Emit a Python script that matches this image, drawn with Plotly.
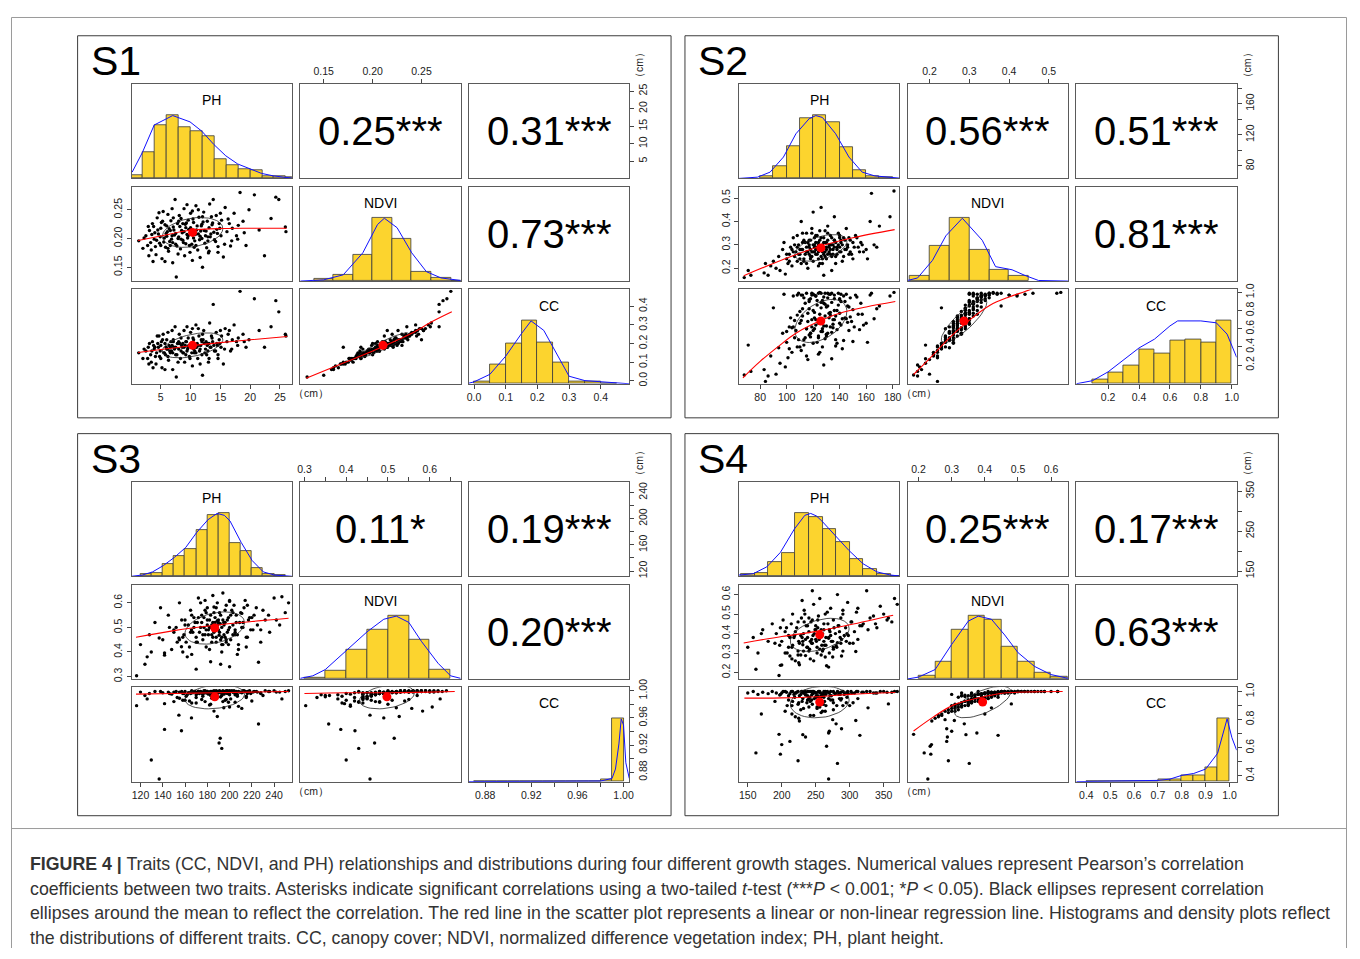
import numpy as np
import plotly.graph_objects as go

# ---------------------------------------------------------------- data
STAGES = ["S1", "S2", "S3", "S4"]
TRAITS = ["PH", "NDVI", "CC"]

S1_PH = [1.3,2.5,2.8,3.1,3.4,3.6,3.9,4.2,4.4,4.6, 4.8,5.0,5.2,5.4,5.6,5.8,6.0,6.1,6.3,6.5,
         6.7,6.9,7.0,7.2,7.4,7.5,7.6,7.8,8.0,8.1, 8.3,8.5,8.7,8.9,9.0,9.2,9.4,9.6,9.8,10.0,
         10.1,10.3,10.5,10.7,10.9,11.0,11.2,11.4,11.6,11.8, 12.0,12.2,12.4,12.6,12.8,13.0,13.2,13.4,13.6,13.8,
         14.0,14.3,14.6,14.9,15.2,15.5,15.8,16.1,16.5,16.9, 17.3,17.7,18.3,18.8,19.3,19.8,20.7,21.5,22.4,23.5,
         24.3,24.8,25.9,26.0,4.0,5.3,6.6,7.9,9.1,10.6, 11.9,8.4,6.2,12.9,3.0,9.9,14.5,7.1,11.3,5.7,
         2.2,3.3,3.8,4.1,4.5,4.9,5.1,5.5,5.9,6.2, 6.4,6.8,7.1,7.3,7.7,8.2,8.6,8.8,9.3,9.5,
         9.7,10.2,10.4,10.8,11.1,11.5,11.7,12.1,12.5,12.7, 13.1,13.5,13.9,14.2,14.8,15.1,15.7,16.3,17.0,17.9,
         3.5,4.3,5.0,5.7,6.0,6.6,7.0,7.5,8.0,8.4, 8.9,9.2,9.6,10.0,10.5,10.9,11.3,11.9,12.3,12.9,
         13.3,13.7,14.4,15.0,16.7,18.0,19.0,2.0,2.9,3.7, 6.9,9.4,11.6,13.1,4.7,7.9,10.3,12.0,14.6,8.7]
S1_NDVI = [0.196,0.205,0.188,0.214,0.180,0.226,0.199,0.172,0.236,0.208, 0.192,0.218,0.165,0.247,0.201,0.185,0.222,0.212,0.178,0.195,
           0.231,0.205,0.158,0.215,0.268,0.190,0.133,0.226,0.203,0.240, 0.182,0.214,0.197,0.252,0.170,0.219,0.207,0.232,0.188,0.244,
           0.211,0.162,0.228,0.196,0.257,0.215,0.180,0.237,0.204,0.222, 0.150,0.246,0.192,0.213,0.230,0.175,0.260,0.208,0.224,0.268,
           0.198,0.240,0.186,0.218,0.232,0.168,0.254,0.212,0.226,0.196, 0.244,0.205,0.280,0.230,0.188,0.250,0.276,0.215,0.170,0.235,
           0.272,0.268,0.220,0.212,0.210,0.230,0.188,0.200,0.225,0.185, 0.200,0.235,0.242,0.203,0.170,0.176,0.209,0.220,0.250,0.160,
           0.201,0.193,0.221,0.186,0.215,0.203,0.228,0.194,0.209,0.183, 0.217,0.199,0.236,0.206,0.187,0.221,0.210,0.193,0.227,0.201,
           0.216,0.190,0.234,0.207,0.222,0.198,0.213,0.229,0.205,0.184, 0.219,0.238,0.211,0.195,0.226,0.205,0.190,0.234,0.218,0.199,
           0.207,0.197,0.188,0.224,0.204,0.214,0.193,0.209,0.230,0.199, 0.212,0.191,0.205,0.219,0.201,0.188,0.208,0.225,0.214,0.196,
           0.203,0.227,0.216,0.244,0.187,0.223,0.210,0.183,0.221,0.160, 0.252,0.259,0.167,0.178,0.245,0.173,0.248,0.238,0.176,0.226]
S1_CC = [0.15,0.16,0.12,0.20,0.10,0.21,0.17,0.09,0.24,0.18, 0.13,0.19,0.07,0.25,0.15,0.14,0.22,0.17,0.11,0.16,
         0.21,0.19,0.06,0.18,0.29,0.14,0.02,0.20,0.17,0.25, 0.12,0.19,0.15,0.27,0.10,0.21,0.16,0.23,0.13,0.26,
         0.20,0.08,0.22,0.16,0.30,0.18,0.12,0.24,0.17,0.22, 0.03,0.27,0.15,0.21,0.19,0.10,0.31,0.18,0.23,0.41,
         0.16,0.26,0.14,0.20,0.24,0.09,0.28,0.21,0.27,0.17, 0.30,0.21,0.48,0.25,0.18,0.22,0.44,0.27,0.18,0.29,
         0.43,0.37,0.25,0.24,0.18,0.22,0.15,0.20,0.19,0.15, 0.14,0.23,0.26,0.20,0.09,0.12,0.19,0.21,0.28,0.06,
         0.17,0.14,0.19,0.13,0.20,0.16,0.21,0.15,0.18,0.13, 0.19,0.16,0.22,0.17,0.14,0.20,0.18,0.15,0.21,0.17,
         0.19,0.15,0.23,0.18,0.20,0.16,0.19,0.22,0.17,0.14, 0.20,0.24,0.19,0.16,0.22,0.18,0.17,0.25,0.22,0.19,
         0.16,0.15,0.12,0.20,0.17,0.18,0.15,0.18,0.21,0.16, 0.18,0.14,0.18,0.19,0.17,0.15,0.19,0.21,0.20,0.16,
         0.18,0.21,0.20,0.27,0.16,0.23,0.21,0.12,0.18,0.07, 0.27,0.29,0.09,0.12,0.24,0.10,0.28,0.25,0.12,0.20]

S2_PH = [68,71,73,84,83,86,88,90,92,94, 95,97,98,99,100,101,102,103,104,105,
         106,107,108,109,110,111,111,112,113,114, 115,115,116,117,118,118,119,120,120,121,
         122,122,123,124,124,125,125,126,126,127, 128,128,129,130,130,131,132,133,133,134,
         135,136,136,137,138,139,140,141,142,143, 144,145,146,147,148,150,152,154,156,158,
         161,163,164,166,168,170,178,181,119,127, 113,134,121,117,129,140,110,124,131,108,
         105,108,110,112,114,115,116,117,118,119, 120,121,122,123,124,125,126,127,128,129,
         130,131,132,133,134,135,136,137,138,139, 140,141,142,144,146,148,150,153,157,160,
         100,102,104,106,109,111,113,116,118,120, 122,124,126,128,130,132,134,136,138,140,
         143,145,147,149,151,155,112,119,125,131, 137,127,123,115,133,121,129,117,135,141]
S2_NDVI = [0.16,0.19,0.17,0.22,0.18,0.17,0.21,0.23,0.20,0.25, 0.19,0.28,0.31,0.175,0.24,0.22,0.26,0.29,0.21,0.33,
           0.25,0.27,0.23,0.30,0.26,0.40,0.22,0.28,0.24,0.31, 0.27,0.35,0.20,0.29,0.25,0.32,0.27,0.44,0.23,0.30,
           0.26,0.34,0.29,0.21,0.31,0.28,0.36,0.46,0.25,0.30, 0.17,0.33,0.27,0.31,0.24,0.38,0.29,0.26,0.34,0.30,
           0.28,0.42,0.32,0.25,0.29,0.35,0.27,0.31,0.23,0.33, 0.28,0.37,0.30,0.26,0.32,0.24,0.34,0.29,0.31,0.27,
           0.24,0.40,0.52,0.30,0.29,0.38,0.42,0.53,0.35,0.22, 0.32,0.19,0.27,0.30,0.36,0.33,0.28,0.24,0.26,0.34,
           0.27,0.29,0.24,0.31,0.26,0.29,0.27,0.32,0.28,0.25, 0.30,0.33,0.28,0.26,0.30,0.32,0.29,0.27,0.31,0.25,
           0.29,0.32,0.27,0.30,0.33,0.26,0.29,0.31,0.28,0.30, 0.34,0.27,0.30,0.32,0.29,0.27,0.31,0.33,0.30,0.28,
           0.26,0.23,0.28,0.30,0.26,0.28,0.23,0.31,0.24,0.27, 0.31,0.27,0.33,0.26,0.28,0.30,0.25,0.32,0.26,0.29,
           0.25,0.28,0.33,0.26,0.29,0.27,0.35,0.37,0.22,0.35, 0.22,0.24,0.34,0.22,0.28,0.29,0.31,0.26,0.30,0.32]
S2_CC = [0.09,0.42,0.13,0.02,0.15,0.08,0.30,0.83,0.10,0.39, 0.22,0.55,0.98,0.18,0.45,0.28,0.62,0.72,0.34,0.96,
         0.50,0.58,0.40,0.99,0.66,0.97,0.36,0.74,0.48,0.88, 0.60,0.99,0.26,0.82,0.55,0.93,0.70,0.98,0.44,0.78,
         0.64,0.96,0.86,0.32,0.99,0.68,1.00,0.99,0.57,0.91, 0.20,0.95,0.74,0.84,0.52,0.99,0.77,0.62,0.98,0.89,
         0.70,0.97,0.93,0.48,0.80,0.99,0.66,0.90,0.38,0.96, 0.72,0.98,0.85,0.58,0.94,0.46,0.97,0.76,0.88,0.64,
         0.45,0.97,0.99,0.71,0.82,0.85,0.96,1.00,0.97,0.40, 0.94,0.27,0.60,0.90,0.99,0.92,0.79,0.50,0.55,0.97,
         0.62,0.75,0.40,0.82,0.50,0.60,0.68,0.92,0.55,0.62, 0.80,0.97,0.70,0.45,0.66,0.76,0.83,0.57,0.88,0.49,
         0.63,0.85,0.72,0.78,0.99,0.61,0.70,0.74,0.59,0.86, 0.93,0.64,0.71,0.90,0.67,0.73,0.81,0.95,0.76,0.66,
         0.57,0.38,0.61,0.69,0.48,0.69,0.42,0.77,0.51,0.58, 0.96,0.52,0.89,0.63,0.54,0.98,0.56,0.80,0.44,0.77,
         0.47,0.71,0.84,0.68,0.62,0.59,0.97,0.99,0.34,0.94, 0.41,0.60,0.91,0.30,0.75,0.72,0.87,0.53,0.65,0.98]

S3_PH = [136.8,129.7,193.0,190.6,191.6,141.6,156.8,226.0,154.5,165.8, 189.0,116.5,126.0,141.6,194.8,211.0,186.0,247.0,200,178,
         170,160,205,220,183,175,196,150,
         120,128,133,140,145,148,152,155,158,160, 162,165,167,169,171,172,174,176,177,179,
         180,181,182,183,184,185,186,187,188,189, 190,191,192,193,194,195,196,197,198,199,
         200,201,203,204,206,208,210,212,214,216, 218,221,224,228,232,236,240,245,250,253,
         138,124,170,185,207,178,192,161,215,230,
         150,153,157,159,163,164,166,168,170,172, 173,175,176,178,179,180,181,182,183,184,
         185,186,187,188,189,190,191,192,193,194, 195,196,197,198,199,200,201,202,203,205,
         206,207,209,211,213,215,217,219,222,225, 158,166,174,182,188,194,200,208,216,171,
         177,184,190,197,203,165,212,180,186,193, 146,155,228,235,242,168,199,205,179,187]
S3_NDVI = [0.457,0.400,0.430,0.468,0.515,0.387,0.421,0.358,0.457,0.490, 0.527,0.303,0.380,0.396,0.520,0.557,0.583,0.625,0.606,0.470,
           0.44,0.51,0.48,0.54,0.50,0.55,0.46,0.48,
           0.43,0.47,0.52,0.45,0.55,0.41,0.50,0.60,0.46,0.53, 0.38,0.57,0.48,0.52,0.44,0.62,0.50,0.47,0.54,0.42,
           0.58,0.49,0.53,0.36,0.51,0.46,0.56,0.50,0.44,0.60, 0.52,0.48,0.55,0.40,0.64,0.51,0.57,0.45,0.53,0.49,
           0.34,0.55,0.47,0.59,0.52,0.43,0.56,0.50,0.61,0.46, 0.54,0.49,0.58,0.44,0.53,0.48,0.62,0.51,0.56,0.60,
           0.58,0.35,0.33,0.63,0.39,0.61,0.35,0.44,0.42,0.57,
           0.49,0.44,0.53,0.47,0.51,0.42,0.55,0.50,0.46,0.54, 0.48,0.52,0.45,0.57,0.49,0.53,0.47,0.50,0.55,0.44,
           0.52,0.48,0.54,0.46,0.51,0.49,0.56,0.45,0.50,0.53, 0.47,0.52,0.59,0.48,0.54,0.50,0.45,0.57,0.51,0.49,
           0.55,0.47,0.52,0.50,0.58,0.46,0.53,0.49,0.55,0.51, 0.40,0.39,0.60,0.41,0.58,0.43,0.61,0.41,0.59,0.52,
           0.50,0.47,0.53,0.44,0.56,0.48,0.52,0.51,0.49,0.46, 0.50,0.45,0.49,0.55,0.53,0.54,0.43,0.47,0.56,0.52]
S3_CC = [0.870,0.898,0.915,0.923,0.930,0.943,0.941,0.951,0.964,0.960, 0.962,0.978,0.988,0.981,0.975,0.974,0.970,0.988,0.976,0.984,
         0.982,0.986,0.983,0.985,0.980,0.987,0.986,0.984,
         0.998,0.996,0.999,0.997,0.998,0.995,0.999,0.998,0.996,0.999, 0.994,0.998,0.997,0.999,0.996,0.999,0.998,0.995,1.000,0.997,
         0.999,0.996,0.998,0.993,0.999,0.997,1.000,0.998,0.995,0.999, 0.997,0.999,0.998,0.996,1.000,0.998,0.999,0.997,1.000,0.996,
         0.994,0.999,0.998,1.000,0.997,0.999,0.998,1.000,0.999,0.996, 1.000,0.998,0.999,0.997,1.000,0.999,1.000,0.998,0.999,1.000,
         0.999,0.993,0.990,0.999,0.992,0.998,0.991,0.992,0.990,0.993,
         0.998,0.990,0.999,0.996,0.997,0.985,1.000,0.998,0.994,0.999, 0.996,0.998,0.992,1.000,0.997,0.999,0.995,0.998,0.999,0.989,
         0.998,0.996,0.999,0.993,0.998,0.997,1.000,0.991,0.998,0.999, 0.995,0.998,1.000,0.996,0.999,0.997,0.988,1.000,0.998,0.996,
         0.999,0.994,0.998,0.997,1.000,0.992,0.999,0.996,0.999,0.998, 0.986,0.982,0.999,0.979,1.000,0.984,1.000,0.977,0.999,0.998,
         0.997,0.995,0.999,0.987,0.999,0.996,0.998,0.998,0.997,0.993, 0.996,0.989,0.996,0.999,0.998,0.999,0.983,0.994,0.999,0.998]

S4_PH = [269,282,224,198,162,200,266,212,196,231, 315,235,269,270,288,280,309,170,327,357,
         205,215,225,232,238,242,245,248,252,255, 258,262,265,272,276,285,295,190,220,250,
         260,240,230,300,210,275,
         150,158,165,172,180,186,192,197,202,207, 212,216,220,224,228,233,236,240,244,247,
         250,253,256,260,264,268,272,277,282,287, 292,297,303,310,318,325,335,345,355,366,
         245,230,262,238,290,
         200,205,210,214,218,222,226,229,232,235, 238,241,243,246,249,251,254,257,259,262,
         265,267,270,273,276,279,283,286,290,294, 298,302,307,312,320,330,340,350,362,370,
         208,216,224,231,237,244,250,256,263,269, 275,281,288,296,305,215,228,240,252,264,
         276,290,225,247,258,233,219,271,284,242, 255,198,312,338,226,261,245,287,234,253]
S4_NDVI = [0.228,0.353,0.290,0.237,0.217,0.239,0.235,0.285,0.185,0.343, 0.44,0.287,0.376,0.30,0.285,0.338,0.308,0.40,0.42,0.48,
           0.30,0.33,0.36,0.31,0.38,0.27,0.35,0.40,0.33,0.37, 0.29,0.42,0.34,0.39,0.32,0.41,0.36,0.35,0.26,0.44,
           0.31,0.41,0.38,0.35,0.39,0.28,
           0.33,0.38,0.30,0.42,0.36,0.45,0.40,0.34,0.47,0.43, 0.38,0.50,0.41,0.46,0.39,0.52,0.44,0.48,0.37,0.55,
           0.42,0.47,0.58,0.40,0.50,0.45,0.53,0.43,0.60,0.48, 0.39,0.56,0.46,0.51,0.44,0.62,0.49,0.54,0.47,0.58,
           0.62,0.57,0.36,0.33,0.52,
           0.36,0.41,0.33,0.45,0.38,0.43,0.35,0.48,0.40,0.37, 0.44,0.32,0.46,0.39,0.42,0.36,0.49,0.41,0.34,0.45,
           0.38,0.51,0.42,0.36,0.47,0.40,0.44,0.38,0.50,0.43, 0.39,0.46,0.41,0.53,0.45,0.48,0.43,0.50,0.46,0.55,
           0.30,0.34,0.31,0.36,0.33,0.35,0.37,0.32,0.34,0.38, 0.36,0.33,0.37,0.40,0.35,0.27,0.29,0.31,0.30,0.28,
           0.33,0.31,0.25,0.26,0.42,0.46,0.39,0.41,0.44,0.36, 0.39,0.43,0.37,0.45,0.24,0.32,0.47,0.35,0.50,0.43]
S4_CC = [0.377,0.488,0.507,0.554,0.563,0.622,0.610,0.645,0.695,0.693, 0.688,0.676,0.705,0.717,0.735,0.770,0.794,0.840,0.884,0.912,
         0.86,0.90,0.92,0.88,0.94,0.83,0.91,0.95,0.89,0.93, 0.85,0.96,0.90,0.94,0.87,0.95,0.92,0.93,0.82,0.96,
         0.86,0.95,0.93,0.90,0.94,0.80,
         0.99,1.00,0.98,0.995,0.985,1.00,0.99,0.975,1.00,0.995, 0.985,1.00,0.99,1.00,0.98,1.00,0.995,1.00,0.975,1.00,
         0.99,0.995,1.00,0.985,1.00,0.995,1.00,0.99,1.00,0.995, 0.98,1.00,0.99,1.00,0.995,1.00,0.99,1.00,0.995,1.00,
         1.00,1.00,0.98,0.97,1.00,
         0.99,1.00,0.97,1.00,0.98,0.995,0.97,1.00,0.99,0.975, 1.00,0.96,1.00,0.985,0.995,0.97,1.00,0.99,0.965,1.00,
         0.98,1.00,0.99,0.97,1.00,0.985,0.995,0.98,1.00,0.99, 0.985,1.00,0.99,1.00,0.995,1.00,0.99,1.00,0.995,1.00,
         0.90,0.93,0.91,0.95,0.92,0.94,0.96,0.89,0.93,0.95, 0.94,0.90,0.95,0.96,0.92,0.84,0.87,0.89,0.88,0.86,
         0.92,0.90,0.81,0.83,0.97,0.99,0.96,0.97,0.98,0.93, 0.96,0.98,0.95,0.99,0.79,0.91,0.99,0.94,1.00,0.97]

# histogram bin edges and relative bar heights (tallest bar = 1)
S1_PH_EDGES = [0,2,4,6,8,10,12,14,16,18,20,22,24,26,28]
S1_PH_HIST = [0.05,0.42,0.85,1.0,0.82,0.75,0.67,0.31,0.21,0.15,0.13,0.03,0.04,0.02]
S1_NDVI_EDGES = [0.14,0.16,0.18,0.20,0.22,0.24,0.26,0.28,0.30]
S1_NDVI_HIST = [0.03,0.10,0.42,1.0,0.68,0.15,0.05,0.01]
S1_CC_EDGES = [0.0,0.05,0.10,0.15,0.20,0.25,0.30,0.35,0.40,0.45]
S1_CC_HIST = [0.03,0.31,0.64,1.0,0.66,0.34,0.04,0.04,0.005]
S2_PH_EDGES = [80,90,100,110,120,130,140,150,160,170,180]
S2_PH_HIST = [0.04,0.20,0.52,0.96,1.0,0.90,0.49,0.13,0.03,0.02]
S2_NDVI_EDGES = [0.15,0.20,0.25,0.30,0.35,0.40,0.45]
S2_NDVI_HIST = [0.08,0.56,1.0,0.49,0.18,0.08]
S2_CC_EDGES = [0.1,0.2,0.3,0.4,0.5,0.6,0.7,0.8,0.9,1.0]
S2_CC_HIST = [0.07,0.18,0.29,0.54,0.48,0.69,0.71,0.65,1.0]
S3_PH_EDGES = [120,130,140,150,160,170,180,190,200,210,220,230,240,250]
S3_PH_HIST = [0.03,0.05,0.19,0.33,0.43,0.74,0.97,1.0,0.53,0.40,0.13,0.03,0.02]
S3_NDVI_EDGES = [0.30,0.35,0.40,0.45,0.50,0.55,0.60,0.65]
S3_NDVI_HIST = [0.02,0.13,0.46,0.79,1.0,0.63,0.15]
S3_CC_EDGES = [0.87,0.88,0.89,0.90,0.91,0.92,0.93,0.94,0.95,0.96,0.97,0.98,0.99,1.00]
S3_CC_HIST = [0,0,0,0,0,0,0,0,0,0,0.01,0.04,1.0]
S4_PH_EDGES = [140,160,180,200,220,240,260,280,300,320,340,360,380]
S4_PH_HIST = [0.03,0.05,0.22,0.37,1.0,0.94,0.75,0.55,0.28,0.11,0.03,0.01]
S4_NDVI_EDGES = [0.20,0.25,0.30,0.35,0.40,0.45,0.50,0.55,0.60,0.65]
S4_NDVI_HIST = [0.05,0.28,0.78,1.0,0.94,0.52,0.28,0.10,0.03]
S4_CC_EDGES = [0.40,0.45,0.50,0.55,0.60,0.65,0.70,0.75,0.80,0.85,0.90,0.95,1.00]
S4_CC_HIST = [0,0,0,0,0.005,0.01,0.03,0.04,0.10,0.10,0.23,1.0]

# density curves (relative, peak = 1)
S1_PH_DX = [0.2,1.9,3.9,7.0,9.9,11.9,13.9,15.9,17.9,19.9,21.9,23.9,27.0]
S1_PH_DY = [0.10,0.41,0.85,1.0,0.90,0.75,0.54,0.36,0.23,0.15,0.08,0.04,0.005]
S1_NDVI_DX = [0.126,0.15,0.17,0.19,0.205,0.212,0.225,0.24,0.255,0.27,0.29]
S1_NDVI_DY = [0.0,0.02,0.10,0.45,0.90,1.0,0.85,0.45,0.15,0.05,0.01]
S1_CC_DX = [-0.016,0.0,0.05,0.10,0.15,0.18,0.22,0.25,0.30,0.35,0.40,0.45,0.49]
S1_CC_DY = [0.01,0.03,0.15,0.44,0.80,1.0,0.85,0.58,0.12,0.05,0.03,0.01,0.0]
S2_PH_DX = [64,78,87.5,97.6,107,117,122,127,137,147,157,166.5,185]
S2_PH_DY = [0.0,0.02,0.10,0.34,0.71,0.95,1.0,0.97,0.71,0.34,0.10,0.04,0.005]
S2_NDVI_DX = [0.145,0.17,0.2075,0.241,0.2825,0.3325,0.366,0.4075,0.44,0.474,0.548]
S2_NDVI_DY = [0.01,0.05,0.33,0.72,1.0,0.65,0.23,0.18,0.09,0.01,0.0]
S2_CC_DX = [-0.006,0.1,0.2,0.3,0.4,0.5,0.6,0.65,0.8,0.9,0.97,1.032]
S2_CC_DY = [0.0,0.05,0.19,0.38,0.57,0.71,0.92,1.0,1.0,0.97,0.79,0.42]
S3_PH_DX = [112,121.6,130.9,140.5,150.4,160.7,170.6,180.6,188.8,195.3,200.4,210.4,220.3,230.3,240.2,256]
S3_PH_DY = [0.0,0.02,0.07,0.17,0.30,0.46,0.70,0.90,1.0,0.97,0.88,0.54,0.25,0.07,0.02,0.0]
S3_NDVI_DX = [0.29,0.32,0.35,0.40,0.45,0.49,0.52,0.55,0.58,0.62,0.65,0.674]
S3_NDVI_DY = [0.01,0.05,0.15,0.45,0.75,0.95,1.0,0.90,0.60,0.25,0.05,0.01]
S3_CC_DX = [0.866,0.95,0.98,0.99,0.993,0.996,0.998,1.0,1.002,1.005]
S3_CC_DY = [0.0,0.003,0.01,0.05,0.20,0.60,1.0,0.90,0.30,0.05]
S4_PH_DX = [137,157.8,178,198,218.5,234,242.6,251,259,279,299,319.6,340,360,373]
S4_PH_DY = [0.02,0.04,0.15,0.38,0.75,0.97,1.0,0.96,0.88,0.65,0.41,0.20,0.07,0.02,0.005]
S4_NDVI_DX = [0.167,0.20,0.25,0.30,0.35,0.38,0.42,0.46,0.50,0.55,0.60,0.651]
S4_NDVI_DY = [0.0,0.03,0.15,0.55,0.92,1.0,0.95,0.70,0.42,0.20,0.07,0.01]
S4_CC_DX = [0.358,0.50,0.60,0.70,0.75,0.80,0.85,0.90,0.95,0.98,0.99,1.01,1.03]
S4_CC_DY = [0.0,0.005,0.01,0.02,0.04,0.10,0.13,0.20,0.45,0.85,1.0,0.70,0.50]

# smoothed (red) regression lines, (x trait, y trait)
S1_FIT_PH_NDVI = ([1.2,5,9.7,15.4,20,26.1], [0.1966,0.2045,0.214,0.2175,0.218,0.218])
S1_FIT_PH_CC = ([1.2,5,9.7,15,20,26.2], [0.152,0.168,0.187,0.205,0.22,0.238])
S1_FIT_NDVI_CC = ([0.132,0.17,0.212,0.24,0.26,0.281], [0.014,0.095,0.187,0.255,0.315,0.37])
S2_FIT_PH_NDVI = ([67.6,95,123,150,181.5], [0.168,0.232,0.29,0.33,0.365])
S2_FIT_PH_CC = ([67,80,95,107,122,140,160,182], [0.06,0.24,0.42,0.55,0.665,0.77,0.84,0.90])
S2_FIT_NDVI_CC = ([0.16,0.20,0.25,0.292,0.352,0.40,0.44,0.47], [0.096,0.27,0.50,0.665,0.858,0.95,1.01,1.06])
S3_FIT_PH_NDVI = ([116,150,185,220,253], [0.46,0.487,0.508,0.524,0.537])
S3_FIT_PH_CC = ([116,150,186,220,253], [0.995,0.996,0.997,0.998,0.999])
S3_FIT_NDVI_CC = ([0.30,0.40,0.50,0.60,0.66], [0.996,0.997,0.997,0.998,0.999])
S4_FIT_PH_NDVI = ([144,200,249,300,364], [0.352,0.385,0.41,0.445,0.494])
S4_FIT_PH_CC = ([145,200,252,300,367], [0.953,0.955,0.963,0.98,0.993])
S4_FIT_NDVI_CC = ([0.185,0.244,0.308,0.40,0.458,0.55,0.635], [0.719,0.818,0.907,0.965,0.99,0.998,1.0])

# correlation labels (PH-NDVI, PH-CC, NDVI-CC)
S1_R = ["0.25***", "0.31***", "0.73***"]
S2_R = ["0.56***", "0.51***", "0.81***"]
S3_R = ["0.11*", "0.19***", "0.20***"]
S4_R = ["0.25***", "0.17***", "0.63***"]

# axis ranges and tick labels
RANGES = {
    "S1": {"PH": [0.1, 27.0], "NDVI": [0.126, 0.290], "CC": [-0.016, 0.490]},
    "S2": {"PH": [64, 185], "NDVI": [0.145, 0.548], "CC": [-0.006, 1.032]},
    "S3": {"PH": [112, 256], "NDVI": [0.290, 0.674], "CC": [0.866, 1.005]},
    "S4": {"PH": [137, 373], "NDVI": [0.167, 0.651], "CC": [0.358, 1.030]},
}
TICKS = {
    "S1": {"top": ([0.15, 0.20, 0.25], ["0.15", "0.20", "0.25"]),
           "left": ([0.15, 0.20, 0.25], ["0.15", "0.20", "0.25"]),
           "right_ph": ([5, 10, 15, 20, 25], ["5", "10", "15", "20", "25"]),
           "bottom_ph": ([5, 10, 15, 20, 25], ["5", "10", "15", "20", "25"]),
           "bottom_cc": ([0, 0.1, 0.2, 0.3, 0.4], ["0.0", "0.1", "0.2", "0.3", "0.4"]),
           "right_cc": ([0, 0.1, 0.2, 0.3, 0.4], ["0.0", "0.1", "0.2", "0.3", "0.4"])},
    "S2": {"top": ([0.2, 0.3, 0.4, 0.5], ["0.2", "0.3", "0.4", "0.5"]),
           "left": ([0.2, 0.3, 0.4, 0.5], ["0.2", "0.3", "0.4", "0.5"]),
           "right_ph": ([80, 100, 120, 140, 160, 180], ["80", "", "120", "", "160", ""]),
           "bottom_ph": ([80, 100, 120, 140, 160, 180], ["80", "100", "120", "140", "160", "180"]),
           "bottom_cc": ([0.2, 0.4, 0.6, 0.8, 1.0], ["0.2", "0.4", "0.6", "0.8", "1.0"]),
           "right_cc": ([0.2, 0.4, 0.6, 0.8, 1.0], ["0.2", "0.4", "0.6", "0.8", "1.0"])},
    "S3": {"top": ([0.30, 0.35, 0.40, 0.45, 0.50, 0.55, 0.60, 0.65], ["0.3", "", "0.4", "", "0.5", "", "0.6", ""]),
           "left": ([0.3, 0.4, 0.5, 0.6], ["0.3", "0.4", "0.5", "0.6"]),
           "right_ph": ([120, 140, 160, 180, 200, 220, 240], ["120", "", "160", "", "200", "", "240"]),
           "bottom_ph": ([120, 140, 160, 180, 200, 220, 240], ["120", "140", "160", "180", "200", "220", "240"]),
           "bottom_cc": ([0.88, 0.90, 0.92, 0.94, 0.96, 0.98, 1.00], ["0.88", "", "0.92", "", "0.96", "", "1.00"]),
           "right_cc": ([0.88, 0.90, 0.92, 0.94, 0.96, 0.98, 1.00], ["0.88", "", "0.92", "", "0.96", "", "1.00"])},
    "S4": {"top": ([0.2, 0.3, 0.4, 0.5, 0.6], ["0.2", "0.3", "0.4", "0.5", "0.6"]),
           "left": ([0.2, 0.3, 0.4, 0.5, 0.6], ["0.2", "0.3", "0.4", "0.5", "0.6"]),
           "right_ph": ([150, 200, 250, 300, 350], ["150", "", "250", "", "350"]),
           "bottom_ph": ([150, 200, 250, 300, 350], ["150", "200", "250", "300", "350"]),
           "bottom_cc": ([0.4, 0.5, 0.6, 0.7, 0.8, 0.9, 1.0], ["0.4", "0.5", "0.6", "0.7", "0.8", "0.9", "1.0"]),
           "right_cc": ([0.4, 0.5, 0.6, 0.7, 0.8, 0.9, 1.0], ["0.4", "", "0.6", "", "0.8", "", "1.0"])},
}

CAPTION = [
    "<b>FIGURE 4 |</b> Traits (CC, NDVI, and PH) relationships and distributions during four different growth stages. Numerical values represent Pearson’s correlation",
    "coefficients between two traits. Asterisks indicate significant correlations using a two-tailed <i>t</i>-test (***<i>P</i> &lt; 0.001; *<i>P</i> &lt; 0.05). Black ellipses represent correlation",
    "ellipses around the mean to reflect the correlation. The red line in the scatter plot represents a linear or non-linear regression line. Histograms and density plots reflect",
    "the distributions of different traits. CC, canopy cover; NDVI, normalized difference vegetation index; PH, plant height.",
]

_g = globals()
DATA = {}
for s in STAGES:
    DATA[s] = {
        "vals": {t: _g[f"{s}_{t}"] for t in TRAITS},
        "hist": {t: (_g[f"{s}_{t}_EDGES"], _g[f"{s}_{t}_HIST"]) for t in TRAITS},
        "dens": {t: (_g[f"{s}_{t}_DX"], _g[f"{s}_{t}_DY"]) for t in TRAITS},
        "fit": {("PH", "NDVI"): _g[f"{s}_FIT_PH_NDVI"], ("PH", "CC"): _g[f"{s}_FIT_PH_CC"],
                ("NDVI", "CC"): _g[f"{s}_FIT_NDVI_CC"]},
        "r": {("PH", "NDVI"): _g[f"{s}_R"][0], ("PH", "CC"): _g[f"{s}_R"][1],
              ("NDVI", "CC"): _g[f"{s}_R"][2]},
    }

# ---------------------------------------------------------------- style / layout
# The page keeps the browser's default 8px body margin, so the figure is made
# 16px smaller than the window and all page-pixel positions are shifted by 8.
PAGE_MARGIN = 8
W, H = 1360 - 2 * PAGE_MARGIN, 959 - 2 * PAGE_MARGIN
FONT = "Liberation Sans, Arial, Helvetica, sans-serif"
BOX = "#5a5a5a"
TICKC = "#444444"
TICKFONT = dict(family=FONT, size=10.5, color="#222222")
YELLOW = "#FCD42E"
PANEL_OFF = {"S1": (0, 0), "S2": (611, 0), "S3": (0, 403), "S4": (611, 403)}
L0, T0, PX, PY, CW, CH = 129.3, 76.0, 169.7, 104.0, 161.3, 95.5


def fx(p):
    return (p - PAGE_MARGIN) / W


def fy(p):
    return 1 - (p - PAGE_MARGIN) / H


fig = go.Figure()
lay = {}
ann = []
shp = []


def axis_base(dom, anchor, rng):
    return dict(domain=dom, anchor=anchor, range=rng, autorange=False, showline=True, mirror=True,
                linecolor=BOX, linewidth=1, showgrid=False, zeroline=False, ticks="",
                showticklabels=False, fixedrange=True)


def set_ticks(ax, spec, side, angle=0, mapper=None):
    vals, texts = spec
    if mapper is not None:
        vals = [mapper(v) for v in vals]
    ax.update(ticks="outside", ticklen=4, tickwidth=1, tickcolor=TICKC, tickvals=vals, ticktext=texts,
              showticklabels=True, side=side, tickfont=TICKFONT, tickangle=angle)


n = 0
for s in STAGES:
    D = DATA[s]
    ox, oy = PANEL_OFF[s]
    R = RANGES[s]
    T = TICKS[s]
    shp.append(dict(type="rect", xref="paper", yref="paper", x0=fx(ox + 75), x1=fx(ox + 672),
                    y0=fy(oy + 414), y1=fy(oy + 27), line=dict(color="#3c3c3c", width=1)))
    ann.append(dict(text=s, x=fx(ox + 86), y=fy(oy + 53), xref="paper", yref="paper", xanchor="left",
                    yanchor="middle", showarrow=False, font=dict(family=FONT, size=41, color="black")))
    ann.append(dict(text="（cm）", x=fx(ox + 290), y=fy(oy + 389), xref="paper", yref="paper", xanchor="left",
                    yanchor="middle", showarrow=False, font=TICKFONT))
    ann.append(dict(text="（cm）", x=fx(ox + 640.5), y=fy(oy + 57), xref="paper", yref="paper", xanchor="center",
                    yanchor="middle", showarrow=False, textangle=-90, font=TICKFONT))
    for r in range(3):
        for c in range(3):
            n += 1
            xid = "x" if n == 1 else f"x{n}"
            yid = "y" if n == 1 else f"y{n}"
            xkey = "xaxis" if n == 1 else f"xaxis{n}"
            ykey = "yaxis" if n == 1 else f"yaxis{n}"
            left = L0 + c * PX + ox
            top = T0 + r * PY + oy
            xd = [fx(left), fx(left + CW)]
            yd = [fy(top + CH), fy(top)]
            tx, ty = TRAITS[c], TRAITS[r]
            xr = R[tx]
            yr = [0, 1.5] if r == c else R[ty]
            xa = axis_base(xd, yid, xr)
            ya = axis_base(yd, xid, yr)
            if r == 0 and c == 1:
                set_ticks(xa, T["top"], "top")
            if r == 0 and c == 2:
                set_ticks(ya, T["right_ph"], "right", -90)
            if r == 1 and c == 0:
                set_ticks(ya, T["left"], "left", -90)
            if r == 2 and c == 0:
                set_ticks(xa, T["bottom_ph"], "bottom")
            if r == 2 and c == 2:
                set_ticks(xa, T["bottom_cc"], "bottom")
                lo, hi = R["CC"]
                set_ticks(ya, T["right_cc"], "right", -90, mapper=lambda v, lo=lo, hi=hi: (v - lo) / (hi - lo) * 1.5)
            lay[xkey] = xa
            lay[ykey] = ya

            if r == c:
                edges, hts = D["hist"][tx]
                edges = np.array(edges, float)
                hts = np.array(hts, float)
                hts = hts / hts.max()
                fig.add_trace(go.Bar(x=(edges[:-1] + edges[1:]) / 2, y=hts, width=np.diff(edges),
                                     marker=dict(color=YELLOW, line=dict(color="#3a3a3a", width=0.8)),
                                     xaxis=xid, yaxis=yid, hoverinfo="skip"))
                dx, dy = D["dens"][tx]
                dy = np.array(dy, float)
                fig.add_trace(go.Scatter(x=dx, y=dy / dy.max(), mode="lines", line=dict(color="#1010ff", width=1),
                                         xaxis=xid, yaxis=yid, hoverinfo="skip"))
                ann.append(dict(text=tx, x=0.5, y=0.83, xref=f"{xid} domain", yref=f"{yid} domain",
                                showarrow=False, xanchor="center", yanchor="middle",
                                font=dict(family=FONT, size=14, color="black")))
            elif r > c:
                xv = np.array(D["vals"][tx], float)
                yv = np.array(D["vals"][ty], float)
                m = min(len(xv), len(yv))
                xv, yv = xv[:m], yv[:m]
                fig.add_trace(go.Scatter(x=xv, y=yv, mode="markers", marker=dict(color="black", size=3.4),
                                         xaxis=xid, yaxis=yid, hoverinfo="skip"))
                # correlation ellipse (1 sd, as in psych::pairs.panels)
                xm, ym = xv.mean(), yv.mean()
                xs, ys = xv.std(ddof=1), yv.std(ddof=1)
                rr = np.corrcoef(xv, yv)[0, 1]
                th = np.sign(rr) / np.sqrt(2) if abs(rr) > 0 else 1 / np.sqrt(2)
                shape = np.diag([np.sqrt(1 + rr), np.sqrt(1 - rr)]) @ np.array([[th, th], [-th, th]])
                ang = np.linspace(0, 2 * np.pi, 52)
                el = np.column_stack([np.cos(ang), np.sin(ang)]) @ shape
                fig.add_trace(go.Scatter(x=el[:, 0] * xs + xm, y=el[:, 1] * ys + ym, mode="lines",
                                         line=dict(color="#222222", width=0.8), xaxis=xid, yaxis=yid,
                                         hoverinfo="skip"))
                fx_, fy_ = D["fit"][(tx, ty)]
                fig.add_trace(go.Scatter(x=fx_, y=fy_, mode="lines", line=dict(color="#ff0000", width=1.1),
                                         line_shape="spline", xaxis=xid, yaxis=yid, hoverinfo="skip"))
                fig.add_trace(go.Scatter(x=[xm], y=[ym], mode="markers", marker=dict(color="#ff0000", size=9),
                                         xaxis=xid, yaxis=yid, hoverinfo="skip"))
            else:
                fig.add_trace(go.Scatter(x=[None], y=[None], mode="markers", xaxis=xid, yaxis=yid,
                                         hoverinfo="skip"))
                ann.append(dict(text=D["r"][(ty, tx)], x=0.5, y=0.5, xref=f"{xid} domain", yref=f"{yid} domain",
                                showarrow=False, xanchor="center", yanchor="middle",
                                font=dict(family=FONT, size=40, color="black")))

# outer frame and caption
FRAME = "#9a9a9a"
FR_L, FR_R, FR_T, FR_SEP = 8.5, 1351.5, 8.5, 830
shp.append(dict(type="line", xref="paper", yref="paper", x0=fx(FR_L), x1=fx(FR_L), y0=0, y1=fy(FR_T),
                line=dict(color=FRAME, width=1)))
shp.append(dict(type="line", xref="paper", yref="paper", x0=fx(FR_R), x1=fx(FR_R), y0=0, y1=fy(FR_T),
                line=dict(color=FRAME, width=1)))
shp.append(dict(type="line", xref="paper", yref="paper", x0=fx(FR_L), x1=fx(FR_R), y0=fy(FR_T), y1=fy(FR_T),
                line=dict(color=FRAME, width=1)))
shp.append(dict(type="line", xref="paper", yref="paper", x0=fx(FR_L), x1=fx(FR_R), y0=fy(FR_SEP), y1=fy(FR_SEP),
                line=dict(color=FRAME, width=1)))
for i, line in enumerate(CAPTION):
    ann.append(dict(text=line, x=fx(25), y=fy(866 + 25 * i), xref="paper", yref="paper", xanchor="left",
                    yanchor="middle", showarrow=False,
                    font=dict(family=FONT, size=17.75, color="#333333")))

fig.update_layout(width=W, height=H, margin=dict(l=0, r=0, t=0, b=0), paper_bgcolor="white",
                  plot_bgcolor="white", showlegend=False, annotations=ann, shapes=shp, bargap=0, **lay)

fig.write_html("out.html", config={"displayModeBar": False})
